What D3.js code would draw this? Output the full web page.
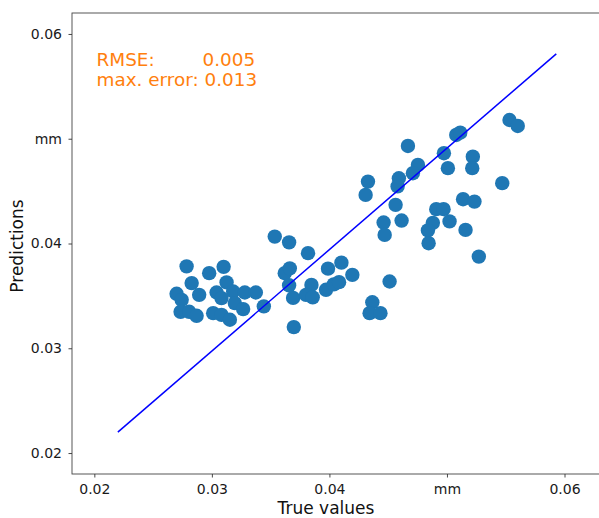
<!DOCTYPE html>
<html>
<head>
<meta charset="utf-8">
<script src="https://cdn.jsdelivr.net/npm/d3@7"></script>
<style>
  body { margin: 0; background: #fff; }
  svg { display: block; font-family: "DejaVu Sans", sans-serif; }
</style>
</head>
<body>
<div id="chart"></div>
<script>
// values
var trueValues = [
  0.02785, 0.02977, 0.03100, 0.02828, 0.03125, 0.02700, 0.02743, 0.02892, 0.03040, 0.03082,
  0.03181, 0.03280, 0.03374, 0.03195, 0.03266, 0.02734, 0.02807, 0.02870, 0.03011, 0.03082,
  0.03153, 0.03442, 0.03535, 0.03657, 0.03818, 0.03620, 0.03663, 0.03988, 0.04102, 0.04195,
  0.03657, 0.03847, 0.03691, 0.03801, 0.03858, 0.03971, 0.04037, 0.04082, 0.03697, 0.04365,
  0.04342, 0.04434, 0.04512, 0.04461, 0.04470, 0.04308, 0.04328, 0.04591, 0.04580, 0.04753,
  0.04710, 0.04668, 0.04974, 0.05008, 0.05220, 0.05215, 0.05079, 0.05113, 0.05532, 0.05602,
  0.04563, 0.04614, 0.04909, 0.04971, 0.05137, 0.05234, 0.04880, 0.04838, 0.04844, 0.05022,
  0.05158, 0.05271, 0.05470
];
var predictions = [
  0.03782, 0.03717, 0.03777, 0.03622, 0.03629, 0.03520, 0.03462, 0.03510, 0.03532, 0.03479,
  0.03542, 0.03532, 0.03532, 0.03431, 0.03374, 0.03348, 0.03348, 0.03310, 0.03335, 0.03319,
  0.03272, 0.03400, 0.04066, 0.04011, 0.03908, 0.03717, 0.03763, 0.03760, 0.03817, 0.03701,
  0.03601, 0.03605, 0.03481, 0.03510, 0.03486, 0.03558, 0.03610, 0.03631, 0.03202, 0.03439,
  0.03335, 0.03335, 0.03637, 0.04200, 0.04082, 0.04464, 0.04591, 0.04623, 0.04545, 0.04750,
  0.04671, 0.04931, 0.04862, 0.04719, 0.04829, 0.04719, 0.05036, 0.05058, 0.05179, 0.05122,
  0.04369, 0.04219, 0.04328, 0.04328, 0.04423, 0.04400, 0.04197, 0.04125, 0.04003, 0.04211,
  0.04130, 0.03875, 0.04576
];
var fitLine = [[0.0220, 0.0220], [0.0593, 0.0581]];
var tickValues = [0.02, 0.03, 0.04, 0.05, 0.06];
var statLabels = ["RMSE:", "max. error:"];
var statValues = ["0.005", "0.013"];

var W = 599, H = 518;
var mLeft = 72, mTop = 13, mRight = 608, mBottom = 474;

var svg = d3.select("#chart").append("svg")
  .attr("width", W)
  .attr("height", H);

var x = d3.scaleLinear().domain([0.0181, 0.0637]).range([mLeft, mRight]);
var y = d3.scaleLinear().domain([0.0180, 0.0620]).range([mBottom, mTop]);

var fmt = function(d) {
  return Math.abs(d - 0.05) < 1e-9 ? "mm" : d3.format(".2f")(d);
};

// frame
svg.append("rect")
  .attr("x", mLeft).attr("y", mTop)
  .attr("width", mRight - mLeft).attr("height", mBottom - mTop)
  .attr("fill", "none")
  .attr("stroke", "#444")
  .attr("stroke-width", 0.9);

var xAxis = svg.append("g")
  .attr("transform", "translate(0," + mBottom + ")")
  .call(d3.axisBottom(x).tickValues(tickValues).tickFormat(fmt).tickSize(3.5).tickPadding(7));

var yAxis = svg.append("g")
  .attr("transform", "translate(" + mLeft + ",0)")
  .call(d3.axisLeft(y).tickValues(tickValues).tickFormat(fmt).tickSize(3.5).tickPadding(6.5));

[xAxis, yAxis].forEach(function(g) {
  g.select(".domain").remove();
  g.selectAll(".tick line").attr("stroke", "#333").attr("stroke-width", 0.9);
  g.selectAll(".tick text")
    .attr("fill", "#1a1a1a")
    .style("font-family", "DejaVu Sans, sans-serif")
    .style("font-size", "14px");
});

// points
svg.append("g").selectAll("circle")
  .data(trueValues)
  .enter()
  .append("circle")
  .attr("cx", function(d) { return x(d); })
  .attr("cy", function(d, i) { return y(predictions[i]); })
  .attr("r", 7.2)
  .attr("fill", "#1f77b4");

// reference line
svg.append("path")
  .datum(fitLine)
  .attr("d", d3.line().x(function(d) { return x(d[0]); }).y(function(d) { return y(d[1]); }))
  .attr("fill", "none")
  .attr("stroke", "#0000ff")
  .attr("stroke-width", 1.5);

// stats text
var stats = svg.append("g")
  .style("font-size", "18.4px")
  .attr("fill", "#ff7f0e");
statLabels.forEach(function(lbl, i) {
  var t = stats.append("text")
    .attr("x", 96.5)
    .attr("y", 66 + i * 20);
  t.append("tspan").text(lbl);
  if (i == 0) {
    t.append("tspan").attr("x", 202.5).text(statValues[i]);
  } else {
    t.append("tspan").text(" " + statValues[i]);
  }
});

// axis labels
svg.append("text")
  .attr("x", 326)
  .attr("y", 514)
  .attr("text-anchor", "middle")
  .style("font-size", "17px")
  .attr("fill", "#111")
  .text("True values");

svg.append("text")
  .attr("transform", "translate(23,246) rotate(-90)")
  .attr("text-anchor", "middle")
  .style("font-size", "17px")
  .attr("fill", "#111")
  .text("Predictions");
</script>
</body>
</html>
